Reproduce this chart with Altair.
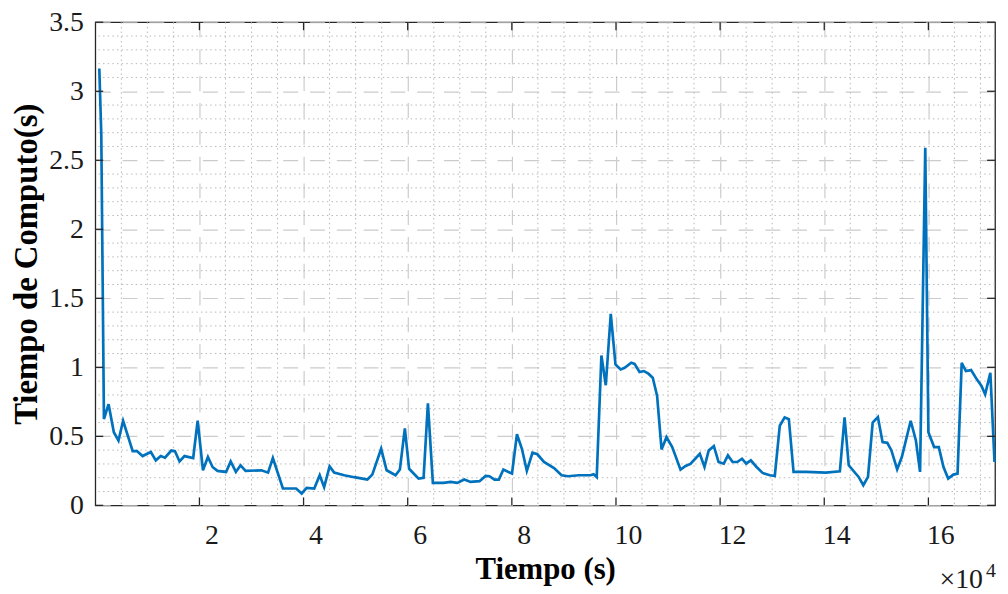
import altair as alt
import pandas as pd

# ---- data (time in seconds, compute time in seconds)
time_s = [770, 1150, 1660, 2550, 3560, 4450, 5340, 7180, 8000, 9080, 10670, 11620,
          12570, 13390, 14600, 15300, 16180, 17130, 18800, 19660, 20680, 21630, 22520,
          23470, 25120, 26000, 27000, 27900, 28860, 31900, 33180, 34100, 36030, 38570,
          39640, 40600, 42050, 43100, 43950, 45000, 45870, 47800, 49700, 51300, 52250,
          53200, 54900, 55950, 57660, 58500, 59450, 60270, 62100, 63050, 63880, 64830,
          66860, 68250, 69520, 70850, 72060, 73800, 74960, 75700, 76670, 77500, 78380,
          80030, 80980, 81930, 82880, 83960, 84900, 86170, 88100, 89550, 90800, 92850,
          95100, 95700, 96300, 97200, 98040, 99000, 99900, 100900, 101670, 102940,
          103570, 104520, 105350, 106230, 107060, 107900, 108750, 109700, 110800,
          112400, 113370, 114300, 116100, 117000, 117800, 118800, 119700, 120700,
          121500, 122400, 123300, 124200, 125000, 125900, 127000, 128160, 129550,
          130500, 131460, 132400, 133200, 134100, 136500, 140300, 143000, 143900,
          144700, 146600, 147500, 148400, 149300, 150300, 151200, 152100, 152900,
          154000, 154900, 156600, 157600, 158400, 159400, 160000, 161100, 162000,
          162900, 163800, 164800, 165600, 166400, 167200, 168200, 169300, 170200,
          170900, 171900, 172700]
compute_s = [3.165, 2.69, 0.625, 0.733, 0.53, 0.47, 0.613, 0.393, 0.393, 0.357, 0.386,
             0.326, 0.357, 0.345, 0.397, 0.393, 0.318, 0.357, 0.343, 0.613, 0.254, 0.35,
             0.278, 0.25, 0.242, 0.318, 0.242, 0.29, 0.25, 0.254, 0.237, 0.343, 0.122,
             0.122, 0.086, 0.127, 0.122, 0.218, 0.132, 0.282, 0.237, 0.218, 0.204, 0.194,
             0.187, 0.223, 0.41, 0.254, 0.218, 0.26, 0.558, 0.265, 0.194, 0.199, 0.74,
             0.163, 0.163, 0.17, 0.163, 0.187, 0.17, 0.175, 0.213, 0.211, 0.187, 0.187,
             0.26, 0.23, 0.515, 0.41, 0.25, 0.381, 0.37, 0.315, 0.27, 0.218, 0.211, 0.218,
             0.218, 0.226, 0.205, 1.086, 0.87, 1.388, 1.021, 0.985, 0.997, 1.033, 1.025,
             0.966, 0.973, 0.954, 0.925, 0.793, 0.405, 0.494, 0.422, 0.259, 0.285, 0.3,
             0.374, 0.278, 0.397, 0.429, 0.314, 0.302, 0.362, 0.314, 0.314, 0.338, 0.302,
             0.326, 0.278, 0.235, 0.218, 0.213, 0.577, 0.637, 0.625, 0.242, 0.242, 0.237,
             0.247, 0.637, 0.29, 0.206, 0.146, 0.206, 0.60, 0.64, 0.458, 0.453, 0.398,
             0.261, 0.35, 0.613, 0.47, 0.242, 2.59, 0.53, 0.422, 0.422, 0.278, 0.194,
             0.223, 0.23, 1.033, 0.973, 0.98, 0.913, 0.865, 0.805, 0.961, 0.314]

x_domain = [0, 172800]
y_domain = [0, 3.5]
x_major = [20000, 40000, 60000, 80000, 100000, 120000, 140000, 160000]
y_major = [0, 0.5, 1, 1.5, 2, 2.5, 3, 3.5]
x_minor = [v for v in range(5000, 172800, 5000) if v % 20000 != 0]
y_minor = [round(k * 0.1, 1) for k in range(1, 35) if k % 5 != 0]
x_title = "Tiempo (s)"
y_title = "Tiempo de Computo(s)"
exp_base = ["×10"]
exp_power = ["4"]

W, H = 907, 487
FONT = "Liberation Serif, Times New Roman, serif"
INK = "#1a1a1a"
BOX = "#262626"

df = pd.DataFrame({"t": time_s, "c": compute_s})
xs = alt.Scale(domain=x_domain, nice=False, zero=False)
ys = alt.Scale(domain=y_domain, nice=False, zero=False)

x_axis = alt.Axis(
    values=x_major, title=x_title, labelExpr="datum.value / 10000 + ''",
    grid=True, gridDash=[15, 12], gridColor="#cccccc", gridWidth=1.2,
    ticks=False, domain=False, labelFlush=False, labelOverlap=False,
    labelFont=FONT, labelFontSize=28, labelColor=INK,
    labelBaseline="alphabetic", labelPadding=38, labelOffset=12,
    titleFont=FONT, titleFontSize=31, titleFontWeight="bold", titleColor="#000000",
    titleBaseline="alphabetic", titleX=W / 2, titleY=74)
y_axis = alt.Axis(
    values=y_major, title=y_title, labelExpr="datum.value + ''",
    grid=True, gridDash=[15, 12], gridColor="#cccccc", gridWidth=1.2,
    ticks=False, domain=False, labelFlush=False, labelOverlap=False,
    labelFont=FONT, labelFontSize=28, labelColor=INK, labelPadding=12,
    titleFont=FONT, titleFontSize=33, titleFontWeight="bold", titleColor="#000000",
    titleBaseline="alphabetic", titleAngle=270, titleX=-59, titleY=H / 2)

minor_x = alt.Chart(pd.DataFrame({"v": x_minor})).mark_rule(
    color="#b8b8b8", strokeDash=[1.5, 3.2], strokeWidth=1).encode(
    x=alt.X("v:Q", scale=xs, axis=x_axis))
minor_y = alt.Chart(pd.DataFrame({"v": y_minor})).mark_rule(
    color="#b8b8b8", strokeDash=[1.5, 3.2], strokeWidth=1).encode(
    y=alt.Y("v:Q", scale=ys, axis=y_axis))

line = alt.Chart(df).mark_line(color="#0072BD", strokeWidth=2.7).encode(
    x=alt.X("t:Q", scale=xs, axis=x_axis),
    y=alt.Y("c:Q", scale=ys, axis=y_axis),
)

xt = pd.DataFrame({"v": x_major})
yt = pd.DataFrame({"v": y_major})
TL = 8
tick_b = alt.Chart(xt).mark_rule(color=BOX, strokeWidth=1.3).encode(
    x=alt.X("v:Q", scale=xs, axis=x_axis), y=alt.value(H), y2=alt.value(H - TL))
tick_t = alt.Chart(xt).mark_rule(color=BOX, strokeWidth=1.3).encode(
    x=alt.X("v:Q", scale=xs, axis=x_axis), y=alt.value(0), y2=alt.value(TL))
tick_l = alt.Chart(yt).mark_rule(color=BOX, strokeWidth=1.3).encode(
    y=alt.Y("v:Q", scale=ys, axis=y_axis), x=alt.value(0), x2=alt.value(TL))
tick_r = alt.Chart(yt).mark_rule(color=BOX, strokeWidth=1.3).encode(
    y=alt.Y("v:Q", scale=ys, axis=y_axis), x=alt.value(W), x2=alt.value(W - TL))

base_txt = alt.Chart(pd.DataFrame({"s": exp_base})).mark_text(
    font=FONT, fontSize=28, align="left", baseline="alphabetic", color=INK).encode(
    text="s:N", x=alt.value(851), y=alt.value(570))
pow_txt = alt.Chart(pd.DataFrame({"s": exp_power})).mark_text(
    font=FONT, fontSize=20, align="left", baseline="alphabetic", color=INK).encode(
    text="s:N", x=alt.value(898), y=alt.value(559))

chart = alt.layer(minor_x, minor_y, line, tick_b, tick_t, tick_l, tick_r,
                  base_txt, pow_txt).properties(
    width=W, height=H,
    autosize=alt.AutoSizeParams(type="none"),
    padding={"left": 88, "top": 12, "right": 5, "bottom": 87},
    background="white",
).configure_view(stroke=BOX, strokeWidth=1.3)

chart.save("out.html", embed_options={"renderer": "svg", "actions": False})
